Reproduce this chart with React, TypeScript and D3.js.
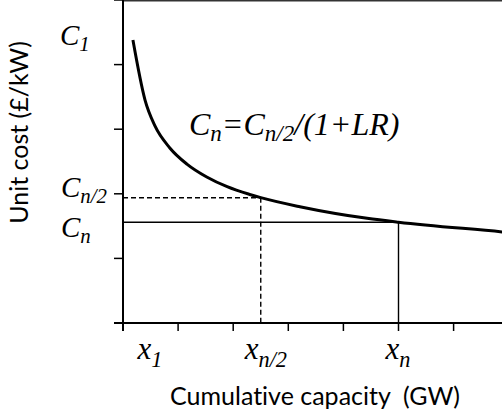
import React from "react";
import * as d3 from "d3";

// Learning-curve sketch: unit cost falls as cumulative capacity grows.
const capacity = [0.18, 0.4, 0.58, 0.85, 1.16, 1.52, 1.89, 2.3, 2.5, 3.21, 4.43, 5.0, 6.88, 7.0];
const unitCost = [4.38, 3.45, 3.05, 2.71, 2.46, 2.26, 2.11, 1.99, 1.94, 1.8, 1.62, 1.56, 1.41, 1.4];

const xTicks = [0, 1, 2, 3, 4, 5, 6, 7];
const yTicks = [0, 1, 2, 3, 4, 5];

// Reference points on the curve: half-way (n/2) and current (n) capacity.
const halfPoint = { x: 2.5, y: 1.94 };
const nPoint = { x: 5.0, y: 1.56 };
const firstX = 0.5;
const firstCost = 4.46;

const W = 502;
const H = 420;
const x0 = 123;
const yBottom = 323;
const unitX = 55.1;
const unitY = 64.6;

const serif = "'Liberation Serif', 'Times New Roman', serif";
const sans = "Lato, 'Open Sans', sans-serif";

export default function App() {
  const x = d3.scaleLinear().domain([0, 7]).range([x0, x0 + 7 * unitX]);
  const y = d3.scaleLinear().domain([0, 5]).range([yBottom, yBottom - 5 * unitY]);

  const pts = capacity.map((c, i) => [c, unitCost[i]] as [number, number]);
  const line = d3
    .line<[number, number]>()
    .x((d) => x(d[0]))
    .y((d) => y(d[1]))
    .curve(d3.curveMonotoneX);

  const sub = (t: string, dy: number) => (
    <tspan fontSize="0.72em" dy={dy}>
      {t}
    </tspan>
  );

  return (
    <svg
      width={W}
      height={H}
      style={{ position: "absolute", left: 0, top: 0, background: "#fff" }}
    >
      <defs>
        <clipPath id="plot">
          <rect x={x0} y={0} width={W - x0} height={yBottom} />
        </clipPath>
      </defs>

      {/* top frame line */}
      <line x1={x0} x2={W} y1={0.75} y2={0.75} stroke="#333" strokeWidth={1.5} />

      {/* guide lines */}
      <line
        x1={x0}
        x2={x(halfPoint.x)}
        y1={y(halfPoint.y)}
        y2={y(halfPoint.y)}
        stroke="#000"
        strokeWidth={1.4}
        strokeDasharray="5,3"
      />
      <line
        x1={x(halfPoint.x)}
        x2={x(halfPoint.x)}
        y1={y(halfPoint.y)}
        y2={yBottom}
        stroke="#000"
        strokeWidth={1.4}
        strokeDasharray="5,3"
      />
      <line
        x1={x0}
        x2={x(nPoint.x)}
        y1={y(nPoint.y)}
        y2={y(nPoint.y)}
        stroke="#000"
        strokeWidth={1.4}
      />
      <line
        x1={x(nPoint.x)}
        x2={x(nPoint.x)}
        y1={y(nPoint.y)}
        y2={yBottom}
        stroke="#000"
        strokeWidth={1.4}
      />

      {/* cost curve */}
      <path
        d={line(pts) ?? ""}
        fill="none"
        stroke="#000"
        strokeWidth={3}
        clipPath="url(#plot)"
      />

      {/* axes */}
      <line x1={x0} x2={x0} y1={0} y2={yBottom + 8} stroke="#000" strokeWidth={2} />
      <line x1={x0 - 9} x2={W} y1={yBottom} y2={yBottom} stroke="#000" strokeWidth={2} />
      {yTicks.map((t) => (
        <line key={"y" + t} x1={x0 - 9} x2={x0} y1={y(t)} y2={y(t)} stroke="#000" strokeWidth={1.5} />
      ))}
      {xTicks.map((t) => (
        <line key={"x" + t} x1={x(t)} x2={x(t)} y1={yBottom} y2={yBottom + 8} stroke="#000" strokeWidth={1.5} />
      ))}

      {/* y-axis symbols */}
      <g fontFamily={serif} fontStyle="italic" fontSize={29} fill="#000">
        <text x={60} y={y(firstCost) + 10}>
          C{sub("1", 6)}
        </text>
        <text x={61} y={y(halfPoint.y) - 1}>
          C{sub("n/2", 6)}
        </text>
        <text x={61} y={y(nPoint.y) + 15}>
          C{sub("n", 6)}
        </text>
      </g>

      {/* x-axis symbols */}
      <g fontFamily={serif} fontStyle="italic" fontSize={31} fill="#000">
        <text x={x(firstX) - 13} y={359}>
          x{sub("1", 8)}
        </text>
        <text x={x(halfPoint.x) - 16} y={359}>
          x{sub("n/2", 8)}
        </text>
        <text x={x(nPoint.x) - 13} y={359}>
          x{sub("n", 8)}
        </text>
      </g>

      {/* learning-rate relation */}
      <text x={189} y={135} fontFamily={serif} fontStyle="italic" fontSize={32} fill="#000">
        C{sub("n", 6)}
        <tspan dy={-6}>=C</tspan>
        {sub("n/2", 6)}
        <tspan dy={-6}>/(1+LR)</tspan>
      </text>

      {/* axis titles */}
      <g fontFamily={sans} fontSize={25} fill="#000" style={{ fontVariantLigatures: "none" }}>
        <text x={(165 + 465) / 2} y={405} textAnchor="middle">
          Cumulative capacity{"\u00a0\u00a0"}(GW)
        </text>
        <text transform={`translate(28, ${(43 + 222) / 2}) rotate(-90)`} textAnchor="middle">
          Unit cost (£/kW)
        </text>
      </g>
    </svg>
  );
}
